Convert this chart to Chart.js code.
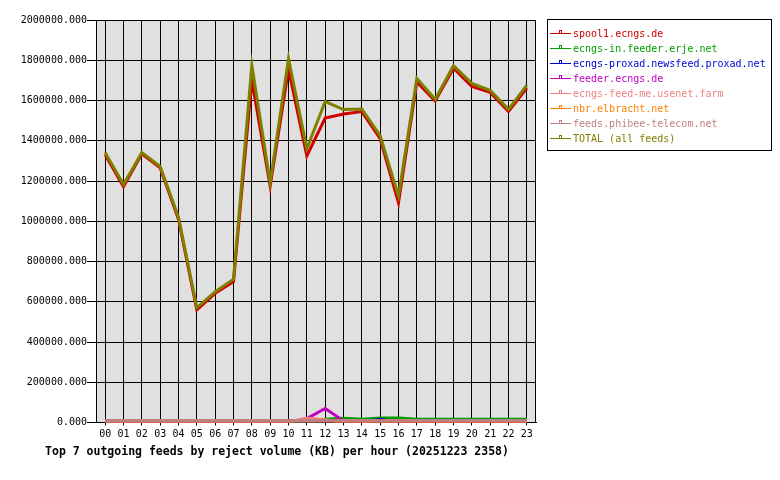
<!DOCTYPE html>
<html>
<head>
<meta charset="utf-8">
<title>Top 7 outgoing feeds by reject volume</title>
<script src="https://cdn.jsdelivr.net/npm/chart.js@4.4.0/dist/chart.umd.min.js"></script>
<style>
  html, body { margin: 0; padding: 0; background: #ffffff; }
  #wrap { width: 780px; height: 480px; }
</style>
</head>
<body>
<div id="wrap"><canvas id="feedChart" width="780" height="480"></canvas></div>
<script>
// hours of the day (x axis)
const hours = ['00', '01', '02', '03', '04', '05', '06', '07', '08', '09', '10', '11',
               '12', '13', '14', '15', '16', '17', '18', '19', '20', '21', '22', '23'];

// reject volume in KB per hour
const spool1 = [1330000, 1172000, 1335000, 1265000, 1010000, 560000, 642000, 700000, 1700000, 1175000, 1755000, 1325000,
                1513000, 1533000, 1545000, 1410000, 1092000, 1692000, 1598000, 1760000, 1670000, 1640000, 1545000, 1662000];
const erje = [0, 0, 0, 0, 0, 0, 0, 0, 0, 0, 0, 0,
              16000, 21000, 16000, 22000, 22000, 16000, 16000, 16000, 16000, 16000, 16000, 16000];
const proxad = [0, 0, 0, 0, 0, 0, 0, 0, 0, 0, 0, 0,
                0, 0, 0, 16000, 0, 0, 0, 0, 0, 0, 0, 0];
const feederEcngs = [0, 0, 0, 0, 0, 0, 0, 0, 0, 0, 0, 20000,
                     70000, 8000, 0, 0, 0, 0, 0, 0, 0, 0, 0, 0];
const usenetFarm = [0, 0, 0, 0, 0, 0, 0, 0, 0, 0, 2000, 22000,
                    14000, 0, 0, 0, 0, 0, 0, 0, 0, 0, 0, 0];
const elbracht = [0, 0, 0, 0, 0, 0, 0, 0, 0, 0, 0, 0,
                  0, 0, 0, 0, 0, 0, 0, 0, 0, 0, 0, 0];
const phibee = [10000, 10000, 10000, 10000, 10000, 10000, 10000, 10000, 10000, 10000, 10000, 10000,
                10000, 10000, 10000, 10000, 10000, 10000, 10000, 10000, 10000, 10000, 10000, 10000];
const total = [1342000, 1183000, 1342000, 1272000, 1020000, 570000, 650000, 712000, 1775000, 1192000, 1808000, 1360000,
               1595000, 1555000, 1558000, 1425000, 1125000, 1710000, 1606000, 1773000, 1685000, 1651000, 1556000, 1676000];

const feedNames = ['spool1.ecngs.de', 'ecngs-in.feeder.erje.net', 'ecngs-proxad.newsfeed.proxad.net',
                   'feeder.ecngs.de', 'ecngs-feed-me.usenet.farm', 'nbr.elbracht.net',
                   'feeds.phibee-telecom.net', 'TOTAL (all feeds)'];
const feedColors = ['#d00000', '#00a000', '#0000d0', '#c000c0', '#f08080', '#ff8000', '#c08080', '#808000'];
const feedValues = [spool1, erje, proxad, feederEcngs, usenetFarm, elbracht, phibee, total];

const yTicks = [0, 200000, 400000, 600000, 800000, 1000000, 1200000, 1400000, 1600000, 1800000, 2000000];

const chartTitle = 'Top 7 outgoing feeds by reject volume (KB) per hour (20251223 2358)';
const mono = '"DejaVu Sans Mono", "Liberation Mono", monospace';

// grey plot background, frame, boxed legend and the title under the chart
const framePlugin = {
    id: 'framePlugin',
    beforeDraw(chart) {
        const { ctx, chartArea: a } = chart;
        ctx.save();
        ctx.fillStyle = '#e0e0e0';
        ctx.fillRect(a.left, a.top, a.right - a.left, a.bottom - a.top);
        ctx.restore();
    },
    afterDraw(chart) {
        const { ctx, chartArea: a } = chart;
        ctx.save();
        ctx.strokeStyle = '#000';
        ctx.lineWidth = 1;
        ctx.beginPath();
        ctx.moveTo(Math.round(a.right) - 0.5, a.top);
        ctx.lineTo(Math.round(a.right) - 0.5, a.bottom);
        ctx.stroke();

        // legend box
        ctx.strokeRect(547.5, 19.5, 224, 131);
        ctx.font = '10px ' + mono;
        ctx.textBaseline = 'middle';
        ctx.textAlign = 'left';
        chart.data.datasets.forEach((ds, i) => {
            const y = 33 + i * 15;
            ctx.strokeStyle = ds.borderColor;
            ctx.beginPath();
            ctx.moveTo(550, y + 0.5);
            ctx.lineTo(571, y + 0.5);
            ctx.stroke();
            ctx.strokeRect(559.5, y - 2.5, 2, 3);
            ctx.fillStyle = ds.borderColor;
            ctx.fillText(ds.label, 573, y + 1);
        });

        ctx.fillStyle = '#000';
        ctx.font = 'bold 11.5px ' + mono;
        ctx.textAlign = 'center';
        ctx.fillText(chartTitle, 277, 452);
        ctx.restore();
    }
};

const datasets = feedNames.map((name, i) => ({
    label: name,
    data: feedValues[i],
    borderColor: feedColors[i],
    backgroundColor: feedColors[i],
    borderWidth: 3,
    pointRadius: 0,
    tension: 0,
    fill: false,
    order: feedNames.length - 1 - i   // TOTAL drawn last, on top
}));

new Chart(document.getElementById('feedChart'), {
    type: 'line',
    data: { labels: hours, datasets: datasets },
    plugins: [framePlugin],
    options: {
        responsive: false,
        animation: false,
        devicePixelRatio: 1,
        layout: { padding: { top: 20, right: 244, bottom: 0, left: 0 } },
        plugins: {
            legend: { display: false },
            title: { display: false },
            tooltip: { enabled: false }
        },
        scales: {
            x: {
                type: 'category',
                offset: true,
                grid: { color: '#000', lineWidth: 1, tickLength: 3, offset: false },
                border: { color: '#000', width: 1 },
                ticks: {
                    color: '#000',
                    font: { family: mono, size: 10 },
                    padding: 3,
                    autoSkip: false,
                    maxRotation: 0
                },
                afterFit(scale) { scale.height = 57.5; }
            },
            y: {
                min: 0,
                max: 2000000,
                grid: { color: '#000', lineWidth: 1, tickLength: 9 },
                border: { color: '#000', width: 1 },
                afterBuildTicks(scale) { scale.ticks = yTicks.map(v => ({ value: v })); },
                ticks: {
                    color: '#000',
                    font: { family: mono, size: 10 },
                    padding: 0,
                    callback: value => Number(value).toFixed(3)
                },
                afterFit(scale) { scale.width = 96; }
            }
        }
    }
});
</script>
</body>
</html>
